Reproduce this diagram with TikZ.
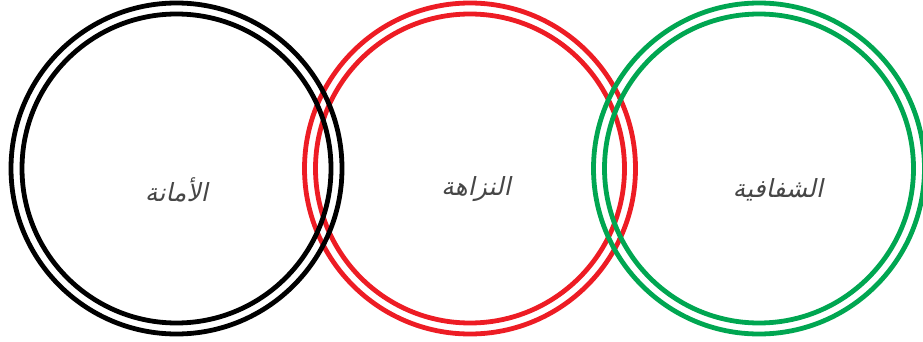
\documentclass[tikz,border=0pt]{standalone}
\usepackage{fontspec}
\usetikzlibrary{positioning,calc}
\TeXXeTstate=1
\newfontfamily\arabicfont[Script=Arabic,FakeSlant=0.22]{DejaVu Sans}
\definecolor{ringred}{RGB}{237,28,36}
\definecolor{ringgreen}{RGB}{0,166,81}
\definecolor{wordgray}{RGB}{70,70,70}
\tikzset{
  ring/.style={line width=4.8pt},
  value-label/.style={font=\arabicfont\fontsize{25}{30}\selectfont, text=wordgray, inner sep=0pt}
}

\begin{document}
\begin{tikzpicture}[x=1pt,y=-1pt]
\useasboundingbox (0,0) rectangle (923,342);
% centres of the three rings
\coordinate (c1) at (176.5,168.5);
\coordinate (c2) at (470,168.5);
\coordinate (c3) at (759,168.5);

% red ring lies under the other two
\draw[ring, draw=ringred] (c2) circle[radius=165.5] (c2) circle[radius=154.5];
\draw[ring, draw=black] (c1) circle[radius=165.5] (c1) circle[radius=154.5];
\draw[ring, draw=ringgreen] (c3) circle[radius=165.5] (c3) circle[radius=154.5];

% labels
\node[value-label] (amana) at ($(c1)+(0,21)$) {\beginR الأمانة\endR};
\node[value-label] (nazaha) at ($(c2)+(6,21)$) {\beginR النزاهة\endR};
\node[value-label] (shafafiya) at ($(c3)+(19,21)$) {\beginR الشفافية\endR};
\end{tikzpicture}
\end{document}
